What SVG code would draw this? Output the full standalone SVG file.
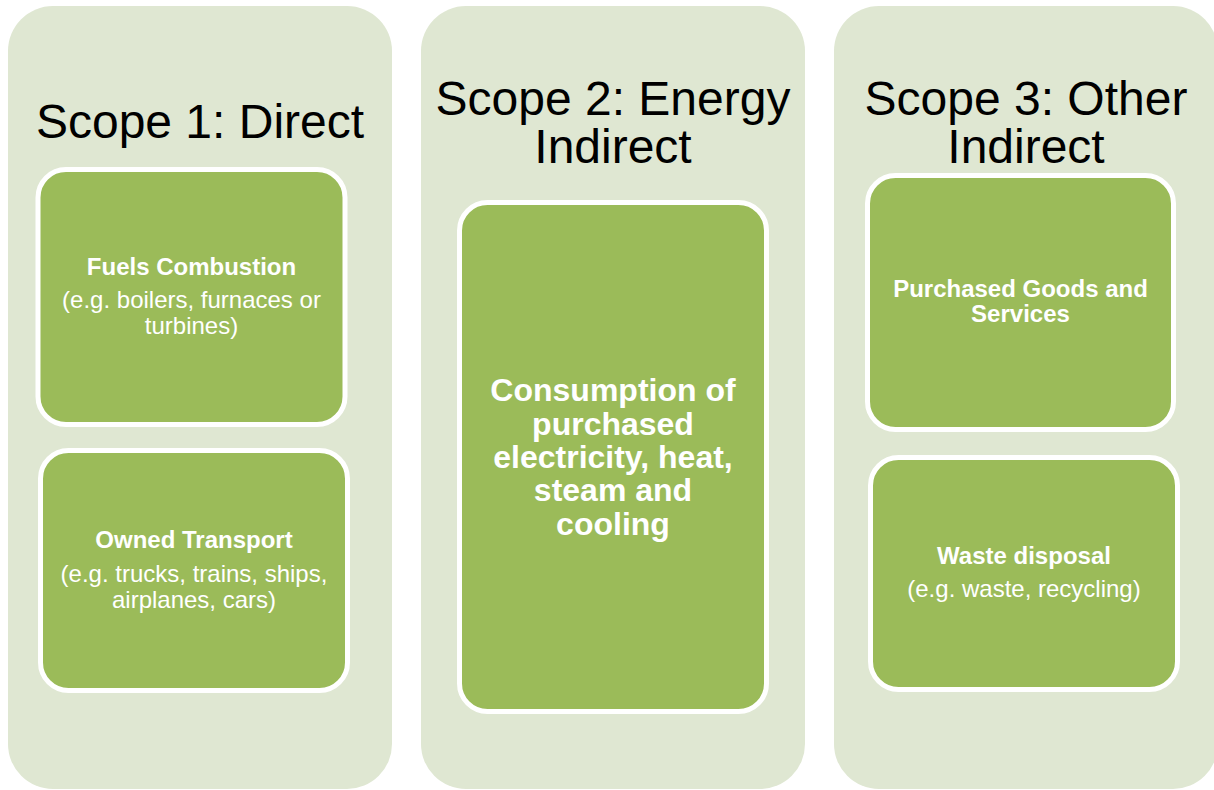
<svg xmlns="http://www.w3.org/2000/svg" width="1214" height="790" viewBox="0 0 1214 790">
<style>
.panel{fill:#DFE7D2}
.box{fill:#9BBB59;stroke:#FFFFFF;stroke-width:5}
.title{font-family:"Liberation Sans",Arial,sans-serif;font-size:48px;fill:#000;text-anchor:middle}
.b{font-family:"Liberation Sans",Arial,sans-serif;font-weight:bold;font-size:24px;fill:#FFFFFF;text-anchor:middle}
.r{font-family:"Liberation Sans",Arial,sans-serif;font-size:24px;fill:#FFFFFF;text-anchor:middle}
.big{font-family:"Liberation Sans",Arial,sans-serif;font-weight:bold;font-size:32px;fill:#FFFFFF;text-anchor:middle}
</style>
<rect width="1214" height="790" fill="#FFFFFF"/>
<g id="scope1">
<rect class="panel" x="8" y="6" width="384" height="783" rx="45"/>
<text class="title" x="200" y="138">Scope 1: Direct</text>
</g>
<g id="scope2">
<rect class="panel" x="421" y="6" width="384" height="783" rx="45"/>
<text class="title" x="613" y="115">Scope 2: Energy</text>
<text class="title" x="613" y="163">Indirect</text>
</g>
<g id="scope3">
<rect class="panel" x="834" y="6" width="384" height="783" rx="45"/>
<text class="title" x="1026" y="115">Scope 3: Other</text>
<text class="title" x="1026" y="163">Indirect</text>
</g>
<g id="fuels">
<rect class="box" x="38" y="169.5" width="307" height="255" rx="28"/>
<text class="b" x="191.5" y="275">Fuels Combustion</text>
<text class="r" x="191.5" y="308">(e.g. boilers, furnaces or</text>
<text class="r" x="191.5" y="334">turbines)</text>
</g>
<g id="transport">
<rect class="box" x="40.5" y="450.5" width="307" height="240" rx="28"/>
<text class="b" x="194" y="548">Owned Transport</text>
<text class="r" x="194" y="582">(e.g. trucks, trains, ships,</text>
<text class="r" x="194" y="608">airplanes, cars)</text>
</g>
<g id="electricity">
<rect class="box" x="459.5" y="202.5" width="307" height="509" rx="28"/>
<text class="big" x="613" y="401">Consumption of</text>
<text class="big" x="613" y="435">purchased</text>
<text class="big" x="613" y="468">electricity, heat,</text>
<text class="big" x="613" y="501">steam and</text>
<text class="big" x="613" y="535">cooling</text>
</g>
<g id="goods">
<rect class="box" x="867.5" y="175.5" width="306" height="254" rx="28"/>
<text class="b" x="1020.5" y="297">Purchased Goods and</text>
<text class="b" x="1020.5" y="322">Services</text>
</g>
<g id="waste">
<rect class="box" x="870.5" y="457.5" width="307" height="232" rx="28"/>
<text class="b" x="1024" y="564">Waste disposal</text>
<text class="r" x="1024" y="597">(e.g. waste, recycling)</text>
</g>
<g id="connectors"></g>
</svg>
